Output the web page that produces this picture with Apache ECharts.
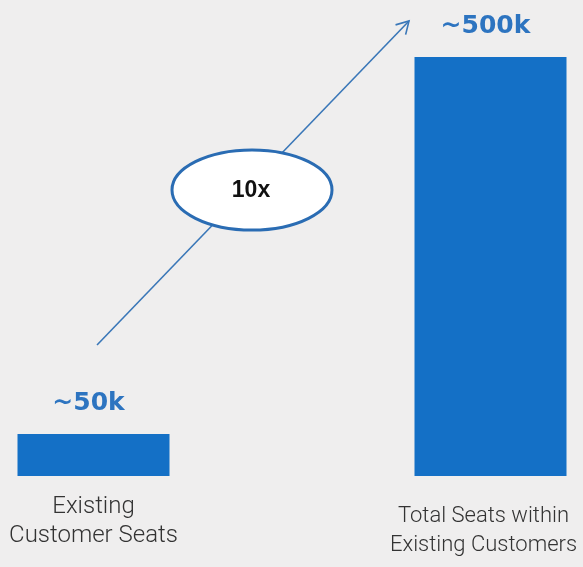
<!DOCTYPE html>
<html>
<head>
<meta charset="utf-8">
<script src="https://cdn.jsdelivr.net/npm/echarts@6/dist/echarts.min.js"></script>
<style>
  html, body { margin: 0; padding: 0; background: #efeeee; }
  #chart { width: 583px; height: 567px; }
</style>
</head>
<body>
<div id="chart"></div>
<script>
// Seat counts (thousands) for the two bars
const categories = ['Existing\nCustomer Seats', 'Total Seats within\nExisting Customers'];
const seatValues = [50, 500];
const valueLabels = ['~50k', '~500k'];
const multiplierText = '10x';

const barColor = '#1470c6';
const labelBlue = '#2d74c0';
const arrowColor = '#3a77b8';

// Per-category label styling: the right-hand caption sits a little lower and tighter
const categoryLabelStyles = [
  {},
  { fontSize: 22, lineHeight: 29, padding: [10, 14, 0, 0] }
];

const chart = echarts.init(document.getElementById('chart'), null, { renderer: 'canvas' });

// Arrow from the small bar towards the large one, with an open head
const arrowStart = [97, 345];
const arrowEnd = [409, 21];
const dx = arrowEnd[0] - arrowStart[0];
const dy = arrowEnd[1] - arrowStart[1];
const len = Math.sqrt(dx * dx + dy * dy);
const bx = -dx / len, by = -dy / len;
const headLen = 14, headAng = Math.PI / 6;
function rot(x, y, a) { return [x * Math.cos(a) - y * Math.sin(a), x * Math.sin(a) + y * Math.cos(a)]; }
const h1 = rot(bx, by, headAng), h2 = rot(bx, by, -headAng);

chart.setOption({
  backgroundColor: '#efeeee',
  animation: false,
  grid: {
    left: -105,
    width: 794,
    top: 57,
    bottom: 91,
    containLabel: false,
    outerBoundsMode: 'none'
  },
  xAxis: {
    type: 'category',
    data: categories.map((c, i) => ({ value: c, textStyle: categoryLabelStyles[i] })),
    axisLine: { show: false },
    axisTick: { show: false },
    splitLine: { show: false },
    axisLabel: {
      interval: 0,
      margin: 16,
      color: '#333333',
      fontFamily: 'Roboto',
      fontWeight: 300,
      fontSize: 24,
      lineHeight: 29
    }
  },
  yAxis: {
    type: 'value',
    min: 0,
    max: 500,
    show: false,
    splitLine: { show: false }
  },
  series: [{
    type: 'bar',
    data: seatValues,
    barWidth: 152,
    itemStyle: { color: barColor },
    label: {
      show: true,
      position: 'top',
      distance: 18,
      offset: [-5, 0],
      formatter: p => valueLabels[p.dataIndex],
      color: labelBlue,
      fontFamily: 'DejaVu Sans',
      fontWeight: 'bold',
      fontSize: 25
    }
  }],
  graphic: [
    {
      type: 'line',
      z: 10,
      shape: { x1: arrowStart[0], y1: arrowStart[1], x2: arrowEnd[0], y2: arrowEnd[1] },
      style: { stroke: arrowColor, lineWidth: 1.6 }
    },
    {
      type: 'polyline',
      z: 10,
      shape: {
        points: [
          [arrowEnd[0] + h1[0] * headLen, arrowEnd[1] + h1[1] * headLen],
          arrowEnd,
          [arrowEnd[0] + h2[0] * headLen, arrowEnd[1] + h2[1] * headLen]
        ]
      },
      style: { stroke: arrowColor, lineWidth: 1.6, fill: null }
    },
    {
      type: 'ellipse',
      z: 11,
      shape: { cx: 252, cy: 190, rx: 80, ry: 40 },
      style: { fill: '#ffffff', stroke: '#2a6cb3', lineWidth: 3 }
    },
    {
      type: 'text',
      z: 12,
      x: 251,
      y: 191,
      style: {
        text: multiplierText,
        fill: '#111111',
        font: 'bold 23px "Liberation Sans", Arial, sans-serif',
        align: 'center',
        verticalAlign: 'middle'
      }
    }
  ]
});
</script>
</body>
</html>
